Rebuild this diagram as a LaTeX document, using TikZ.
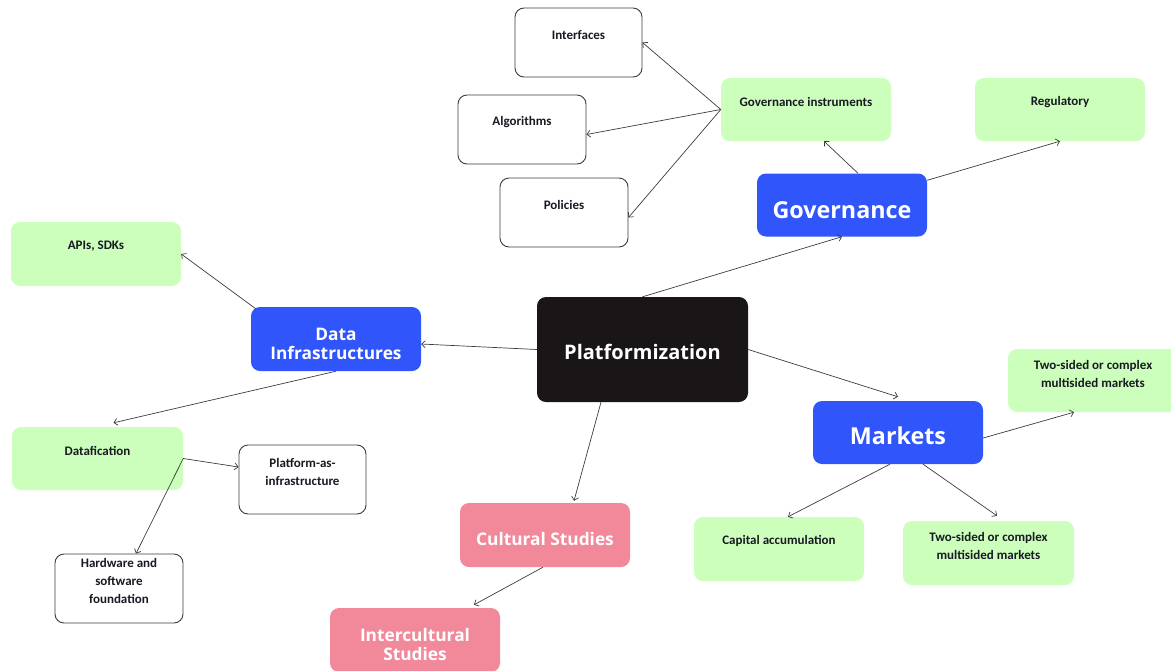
\documentclass[tikz,border=0pt]{standalone}
\usepackage{fontspec}
\setmainfont{Carlito}
\newfontfamily\headfont{Open Sans}
\usetikzlibrary{arrows.meta}
\definecolor{hubblue}{RGB}{48,85,250}
\definecolor{hubpink}{RGB}{242,137,155}
\definecolor{leaf}{RGB}{204,255,188}
\definecolor{core}{RGB}{26,22,24}
\definecolor{ink}{RGB}{25,25,35}
\definecolor{wire}{RGB}{60,60,60}
\begin{document}
\begin{tikzpicture}[x=1pt,y=-1pt,
  box/.style={rounded corners=9pt, inner sep=0pt, minimum width=170pt, minimum height=63pt},
  whitebox/.style={box, draw=wire, line width=0.9pt, fill=white, minimum width=127pt, minimum height=69pt},
  greenbox/.style={box, fill=leaf},
  hubtext/.style={text=white, align=center, inner sep=0pt, font=\headfont\bfseries\fontsize{17.3}{19}\selectfont},
  bigtext/.style={hubtext, font=\headfont\bfseries\fontsize{23.3}{26}\selectfont},
  lbl/.style={font=\bfseries\fontsize{13}{18}\selectfont, text=ink, align=center, inner sep=0pt},
  link/.style={draw=wire, line width=0.7pt, -{Straight Barb[length=3.5pt,width=7pt]}}
]
\useasboundingbox (0,0) rectangle (1171,670);

% central topic and main branches
\node[box, fill=core, minimum width=211pt, minimum height=105pt] (plat) at (642.5,349.5) {};
\node[hubtext, font=\headfont\bfseries\fontsize{20}{24}\selectfont] (plat-t) at ([yshift=-2pt]plat.center) {Platformization};
\node[box, fill=hubblue] (gov) at (842,205) {};
\node[bigtext] (gov-t) at ([yshift=-5pt]gov.center) {Governance};
\node[box, fill=hubblue, minimum height=64pt] (di) at (336,339) {};
\node[hubtext] (di-t) at ([yshift=-5pt]di.center) {Data\\Infrastructures};
\node[box, fill=hubblue] (mk) at (898,432.5) {};
\node[bigtext] (mk-t) at ([yshift=-3pt]mk.center) {Markets};
\node[box, fill=hubpink, minimum height=64pt] (cs) at (545,535) {};
\node[hubtext] (cs-t) at ([yshift=-4pt]cs.center) {Cultural Studies};
\node[box, fill=hubpink, minimum height=64pt] (ic) at (415,640) {};
\node[hubtext] (ic-t) at ([yshift=-5pt]ic.center) {Intercultural\\Studies};

% governance branch
\node[greenbox] (gi) at (806,109.5) {};
\node[lbl] (gi-t) at ([yshift=-24pt]gi.north) {Governance instruments};
\node[greenbox] (reg) at (1060,109.5) {};
\node[lbl] (reg-t) at ([yshift=-24pt]reg.north) {Regulatory};
\node[whitebox] (intf) at (578.5,42.5) {};
\node[lbl] (intf-t) at ([yshift=-27pt]intf.north) {Interfaces};
\node[whitebox, minimum width=128pt] (alg) at (522,129.5) {};
\node[lbl] (alg-t) at ([yshift=-27pt]alg.north) {Algorithms};
\node[whitebox, minimum width=128pt] (pol) at (564,212.5) {};
\node[lbl] (pol-t) at ([yshift=-27pt]pol.north) {Policies};

% data infrastructures branch
\node[greenbox, minimum height=64pt] (apis) at (96,254) {};
\node[lbl] (apis-t) at ([yshift=-24pt]apis.north) {APIs, SDKs};
\node[greenbox, minimum width=171pt] (dat) at (97.5,458.5) {};
\node[lbl] (dat-t) at ([yshift=-24pt]dat.north) {Datafication};
\node[whitebox] (pai) at (302.5,479.5) {};
\node[lbl] (pai-t) at ([yshift=-27pt]pai.north) {Platform-as-\\infrastructure};
\node[whitebox, minimum width=128pt] (hw) at (119,588.5) {};
\node[lbl] (hw-t) at ([yshift=-27pt]hw.north) {Hardware and\\software\\foundation};

% markets branch
\node[greenbox] (ts1) at (1093,380.5) {};
\node[lbl] (ts1-t) at ([yshift=-25pt]ts1.north) {Two-sided or complex\\multisided markets};
\node[greenbox, minimum height=64pt] (cap) at (779,549) {};
\node[lbl] (cap-t) at ([yshift=-24pt]cap.north) {Capital accumulation};
\node[greenbox, minimum width=171pt, minimum height=64pt] (ts2) at (988.5,553) {};
\node[lbl] (ts2-t) at ([yshift=-25pt]ts2.north) {Two-sided or complex\\multisided markets};

% connectors
\draw[link] (plat.north) -- (gov.south);
\draw[link] ([xshift=16pt]gov.north) -- ([xshift=18pt]gi.south);
\draw[link] ([yshift=-7pt]gov.north east) -- (reg.south);
\draw[link] (gi.west) -- (intf.east);
\draw[link] (gi.west) -- ([yshift=-5pt]alg.east);
\draw[link] (gi.west) -- ([yshift=-5pt]pol.east);

\draw[link] (plat.west) -- ([yshift=-5pt]di.east);
\draw[link] ([shift={(5pt,-2pt)}]di.north west) -- (apis.east);
\draw[link] (di.south) -- ([shift={(16pt,4pt)}]dat.north);
\draw[link] (dat.east) -- ([yshift=12.5pt]pai.west);
\draw[link] (dat.east) -- ([xshift=17pt]hw.north);

\draw[link] (plat.east) -- ([yshift=4pt]mk.north);
\draw[link] ([yshift=-5.5pt]mk.east) -- ([xshift=-19pt]ts1.south);
\draw[link] ([xshift=-8pt]mk.south) -- ([xshift=9pt]cap.north);
\draw[link] ([xshift=25pt]mk.south) -- ([shift={(8.5pt,5pt)}]ts2.north);

\draw[link] ([xshift=-41.5pt]plat.south) -- ([shift={(29pt,2pt)}]cs.north);
\draw[link] ([xshift=-2pt]cs.south) -- ([shift={(59pt,3pt)}]ic.north);
\end{tikzpicture}
\end{document}
